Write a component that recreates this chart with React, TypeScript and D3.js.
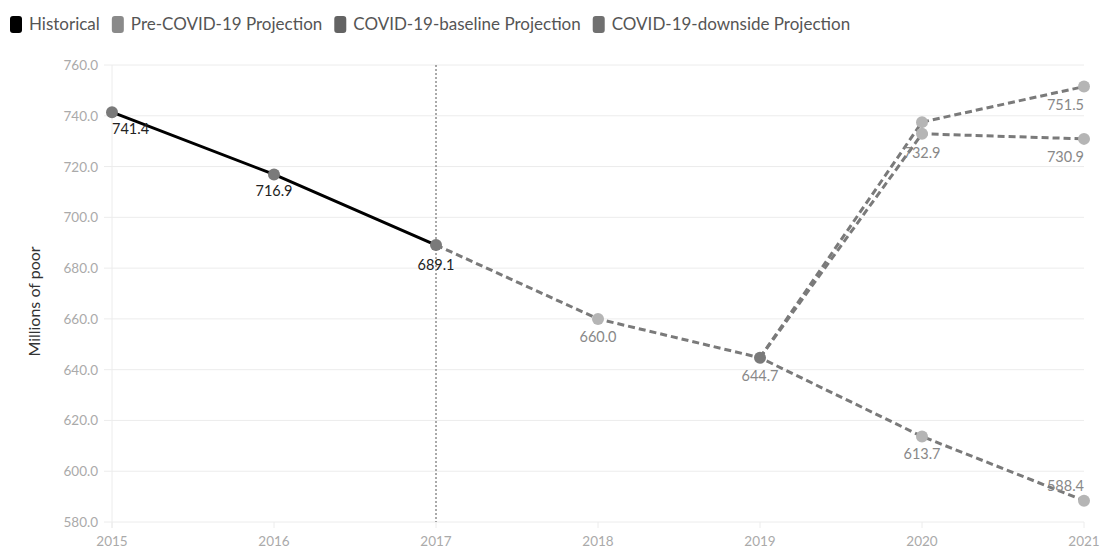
import * as d3 from "d3";

const years = [2015, 2016, 2017, 2018, 2019, 2020, 2021];
const historical = [741.4, 716.9, 689.1];
const historicalYears = [2015, 2016, 2017];
const preCovidYears = [2017, 2018, 2019, 2020, 2021];
const preCovid = [689.1, 660.0, 644.7, 613.7, 588.4];
const baselineYears = [2019, 2020, 2021];
const baseline = [644.7, 732.9, 730.9];
const downsideYears = [2019, 2020, 2021];
const downside = [644.7, 737.5, 751.5];
const yTicks = [580, 600, 620, 640, 660, 680, 700, 720, 740, 760];

const legendItems = [
  { label: "Historical", color: "#000000" },
  { label: "Pre-COVID-19 Projection", color: "#8a8a8a" },
  { label: "COVID-19-baseline Projection", color: "#636363" },
  { label: "COVID-19-downside Projection", color: "#707070" },
];

const W = 1100;
const H = 550;
const margin = { top: 65, right: 16, bottom: 28, left: 112 };
const font = "Lato, 'Noto Sans', sans-serif";

type Pt = { year: number; value: number };
const zip = (ys: number[], vs: number[]): Pt[] => ys.map((y, i) => ({ year: y, value: vs[i] }));

function textWidth(s: string, size: number) {
  const c = document.createElement("canvas").getContext("2d");
  if (!c) return s.length * size * 0.5;
  c.font = `${size}px Lato`;
  return c.measureText(s).width;
}

export default function App() {
  const x = d3.scaleLinear().domain([2015, 2021]).range([margin.left, W - margin.right]);
  const y = d3.scaleLinear().domain([580, 760]).range([H - margin.bottom, margin.top]);
  const line = d3
    .line<Pt>()
    .x((d) => x(d.year))
    .y((d) => y(d.value));

  const hist = zip(historicalYears, historical);
  const pre = zip(preCovidYears, preCovid);
  const base = zip(baselineYears, baseline);
  const down = zip(downsideYears, downside);

  const dashed = { fill: "none", stroke: "#7a7a7a", strokeWidth: 3, strokeDasharray: "7,4" };

  // legend: box, then text, then a gap
  const legSize = 17;
  let lx = 10;
  const legend = legendItems.map((it) => {
    const g = { ...it, x: lx };
    lx += 19 + textWidth(it.label, legSize) + 12;
    return g;
  });

  type Lab = { year: number; value: number; text: string; color: string; dy: number; anchor: string };
  const labels: Lab[] = [
    { year: 2015, value: 741.4, text: "741.4", color: "#222", dy: 22, anchor: "start" },
    { year: 2016, value: 716.9, text: "716.9", color: "#222", dy: 22, anchor: "middle" },
    { year: 2017, value: 689.1, text: "689.1", color: "#222", dy: 25, anchor: "middle" },
    { year: 2018, value: 660.0, text: "660.0", color: "#888", dy: 23, anchor: "middle" },
    { year: 2019, value: 644.7, text: "644.7", color: "#888", dy: 23, anchor: "middle" },
    { year: 2020, value: 613.7, text: "613.7", color: "#888", dy: 23, anchor: "middle" },
    { year: 2021, value: 588.4, text: "588.4", color: "#888", dy: -10, anchor: "end" },
    { year: 2020, value: 732.9, text: "732.9", color: "#888", dy: 24, anchor: "middle" },
    { year: 2021, value: 730.9, text: "730.9", color: "#888", dy: 23, anchor: "end" },
    { year: 2021, value: 751.5, text: "751.5", color: "#888", dy: 23, anchor: "end" },
  ];

  const darkPts = [...hist, { year: 2019, value: 644.7 }];
  const lightPts = [
    { year: 2018, value: 660.0 },
    { year: 2020, value: 613.7 },
    { year: 2021, value: 588.4 },
    { year: 2020, value: 732.9 },
    { year: 2021, value: 730.9 },
    { year: 2020, value: 737.5 },
    { year: 2021, value: 751.5 },
  ];

  return (
    <svg width={W} height={H} style={{ position: "absolute", left: 0, top: 0, background: "#fff" }} fontFamily={font}>
      {/* legend */}
      {legend.map((l) => (
        <g key={l.label} transform={`translate(${l.x},16)`}>
          <rect x={0} y={0} width={12} height={17} rx={3} fill={l.color} />
          <text x={19} y={14} fontSize={legSize} fill="#555">
            {l.label}
          </text>
        </g>
      ))}

      {/* grid */}
      {yTicks.map((t) => (
        <g key={t}>
          <line x1={margin.left - 8} x2={W - margin.right} y1={y(t)} y2={y(t)} stroke="#ececec" />
          <text x={margin.left - 14} y={y(t) + 5} fontSize={13.5} fill="#aaa" textAnchor="end">
            {t.toFixed(1)}
          </text>
        </g>
      ))}
      <line x1={x(2015)} x2={x(2015)} y1={margin.top} y2={H - margin.bottom + 6} stroke="#ececec" />
      {years.map((yr) => (
        <g key={yr}>
          <line x1={x(yr)} x2={x(yr)} y1={H - margin.bottom} y2={H - margin.bottom + 6} stroke="#ececec" />
          <text x={x(yr)} y={H - margin.bottom + 24} fontSize={13.5} fill="#aaa" textAnchor="middle">
            {yr}
          </text>
        </g>
      ))}

      <text
        transform={`translate(40,${(margin.top + H - margin.bottom) / 2 + 8}) rotate(-90)`}
        fontSize={16}
        fill="#333"
        textAnchor="middle"
      >
        Millions of poor
      </text>

      {/* 2017 marker line */}
      <line x1={x(2017)} x2={x(2017)} y1={margin.top} y2={H - margin.bottom} stroke="#555" strokeDasharray="2,2" />

      {/* lines */}
      <path d={line(down) ?? ""} {...dashed} />
      <path d={line(base) ?? ""} {...dashed} />
      <path d={line(pre) ?? ""} {...dashed} />
      <path d={line(hist) ?? ""} fill="none" stroke="#000" strokeWidth={3} />

      {/* points */}
      {lightPts.map((p, i) => (
        <circle key={"l" + i} cx={x(p.year)} cy={y(p.value)} r={6} fill="#b5b5b5" />
      ))}
      {darkPts.map((p, i) => (
        <circle key={"d" + i} cx={x(p.year)} cy={y(p.value)} r={6} fill="#7a7a7a" />
      ))}

      {/* labels */}
      {labels.map((l, i) => (
        <text
          key={"t" + i}
          x={x(l.year)}
          y={y(l.value) + l.dy}
          fontSize={14.5}
          fill={l.color}
          textAnchor={l.anchor}
        >
          {l.text}
        </text>
      ))}
    </svg>
  );
}
